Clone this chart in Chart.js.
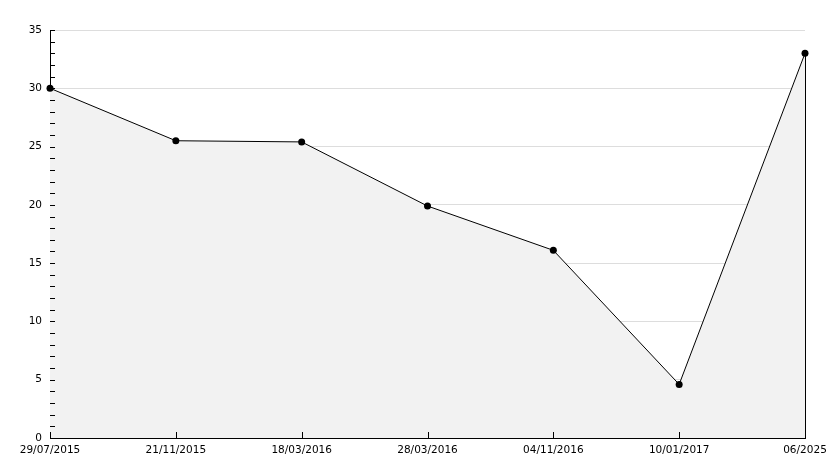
<!DOCTYPE html>
<html>
<head>
<meta charset="UTF-8">
<title>Chart</title>
<script src="https://cdn.jsdelivr.net/npm/chart.js"></script>
<style>
    html, body { margin: 0; padding: 0; background: #fff; }
    #wrap { width: 834px; height: 468px; }
</style>
</head>
<body>
<div id="wrap"><canvas id="chart" width="834" height="468"></canvas></div>
<script>
    // data
    const dateLabels = ['29/07/2015', '21/11/2015', '18/03/2016', '28/03/2016', '04/11/2016', '10/01/2017', '06/2025'];
    const values = [30, 25.5, 25.4, 19.9, 16.1, 4.6, 33.0];
    const yMin = 0, yMax = 35, yStep = 5;

    // small inward ticks + right edge of the filled area
    const tickMarks = {
        id: 'tickMarks',
        afterDatasetsDraw(chart) {
            const ctx = chart.ctx;
            const x = chart.scales.x, y = chart.scales.y;
            ctx.save();
            ctx.strokeStyle = '#000';
            ctx.lineWidth = 1;
            ctx.beginPath();
            for (let v = yMin; v <= yMax; v++) {
                const py = Math.round(y.getPixelForValue(v)) + 0.5;
                ctx.moveTo(x.left, py);
                ctx.lineTo(x.left + 5, py);
            }
            dateLabels.forEach((d, i) => {
                const px = Math.round(x.getPixelForValue(i)) + 0.5;
                ctx.moveTo(px, y.bottom);
                ctx.lineTo(px, y.bottom - 6);
            });
            // right edge line under the last point
            const last = values.length - 1;
            const lx = Math.round(x.getPixelForValue(last)) + 0.5;
            ctx.moveTo(lx, y.getPixelForValue(values[last]));
            ctx.lineTo(lx, y.bottom);
            ctx.stroke();
            ctx.restore();
        }
    };

    new Chart(document.getElementById('chart'), {
        type: 'line',
        data: {
            labels: dateLabels,
            datasets: [{
                data: values,
                borderColor: '#000',
                borderWidth: 1,
                backgroundColor: '#f2f2f2',
                fill: 'origin',
                tension: 0,
                pointRadius: 3.5,
                pointBackgroundColor: '#000',
                pointBorderColor: '#000',
                pointBorderWidth: 0
            }]
        },
        options: {
            responsive: false,
            animation: false,
            layout: { padding: { top: 30, right: 29, left: 0, bottom: 0 } },
            plugins: {
                legend: { display: false },
                tooltip: { enabled: false }
            },
            scales: {
                x: {
                    offset: false,
                    grid: { display: false, drawTicks: false },
                    border: { color: '#000', width: 1 },
                    ticks: {
                        color: '#000',
                        font: { family: 'DejaVu Sans', size: 10.5 },
                        padding: 6,
                        maxRotation: 0,
                        autoSkip: false
                    },
                    afterFit(scale) { scale.height = 30; }
                },
                y: {
                    min: yMin,
                    max: yMax,
                    grid: { color: '#dddddd', drawTicks: false },
                    border: { color: '#000', width: 1 },
                    ticks: {
                        stepSize: yStep,
                        color: '#000',
                        font: { family: 'DejaVu Sans', size: 10.5 },
                        padding: 8
                    },
                    afterFit(scale) { scale.width = 50; }
                }
            }
        },
        plugins: [tickMarks]
    });
</script>
</body>
</html>
